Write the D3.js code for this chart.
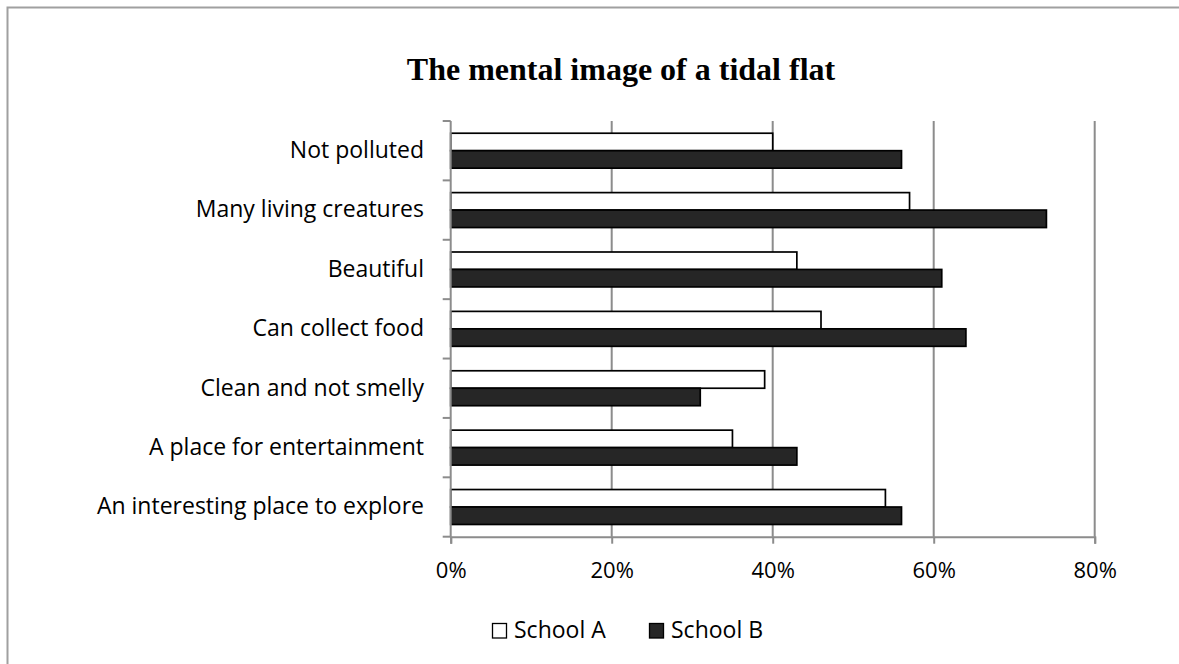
<!DOCTYPE html>
<html>
<head>
<meta charset="utf-8">
<script src="https://cdn.jsdelivr.net/npm/d3@7"></script>
<style>
  html, body { margin: 0; padding: 0; background: #fff; overflow: hidden; }
  svg { display: block; }
</style>
</head>
<body>
<svg id="chart" width="1179" height="664"></svg>
<script>
// Survey answers: share of students choosing each image of the tidal flat
const categories = [
  "Not polluted",
  "Many living creatures",
  "Beautiful",
  "Can collect food",
  "Clean and not smelly",
  "A place for entertainment",
  "An interesting place to explore"
];
const seriesNames = ["School A", "School B"];
const schoolA = [0.40, 0.57, 0.43, 0.46, 0.39, 0.35, 0.54];
const schoolB = [0.56, 0.74, 0.61, 0.64, 0.31, 0.43, 0.56];
const xTicks = [0, 0.2, 0.4, 0.6, 0.8];
const titleText = "The mental image of a tidal flat";

const rows = categories.map((c, i) => ({ category: c, values: [schoolA[i], schoolB[i]] }));

const svg = d3.select("#chart");
const sans = "'Open Sans', 'Noto Sans', sans-serif";
const grid = "#8c8c8c";

// chart frame (only its top and left edges fall inside the page)
svg.append("path")
  .attr("d", "M7.5,700 V7.5 H1200")
  .attr("fill", "none").attr("stroke", "#a0a0a0").attr("stroke-width", 2);

const plot = { left: 450.7, right: 1094.7, top: 121, bottom: 536.7 };

const x = d3.scaleLinear().domain([0, 0.8]).range([plot.left, plot.right]);
const y = d3.scaleBand().domain(categories).range([plot.top, plot.bottom]).paddingInner(0).paddingOuter(0);
const ySub = d3.scaleBand().domain(seriesNames).range([0, y.bandwidth()]).paddingInner(0).paddingOuter(0.7);
const fills = d3.scaleOrdinal().domain(seriesNames).range(["#ffffff", "#262626"]);

// title
svg.append("text")
  .attr("x", 621).attr("y", 80)
  .attr("text-anchor", "middle")
  .attr("font-family", "'Liberation Serif', 'Times New Roman', serif")
  .attr("font-weight", "bold")
  .attr("font-size", 32)
  .attr("fill", "#000")
  .text(titleText);

// vertical gridlines
svg.append("g")
  .selectAll("line")
  .data(xTicks.filter(t => t > 0))
  .join("line")
  .attr("x1", d => x(d)).attr("x2", d => x(d))
  .attr("y1", plot.top).attr("y2", plot.bottom)
  .attr("stroke", grid).attr("stroke-width", 2);

// bars
const groups = svg.append("g")
  .selectAll("g")
  .data(rows)
  .join("g")
  .attr("transform", d => `translate(0,${y(d.category)})`);

groups.selectAll("rect")
  .data(d => d.values.map((v, i) => ({ key: seriesNames[i], value: v })))
  .join("rect")
  .attr("x", x(0))
  .attr("y", d => ySub(d.key))
  .attr("width", d => x(d.value) - x(0))
  .attr("height", ySub.bandwidth())
  .attr("fill", d => fills(d.key))
  .attr("stroke", "#000")
  .attr("stroke-width", 1.7);

// x axis
const xAxis = d3.axisBottom(x)
  .tickValues(xTicks)
  .tickFormat(d3.format(".0%"))
  .tickSize(7)
  .tickPadding(19);
const gx = svg.append("g")
  .attr("transform", `translate(0,${plot.bottom})`)
  .call(xAxis);
gx.select(".domain").attr("stroke", grid).attr("stroke-width", 2);
gx.selectAll(".tick line").attr("stroke", grid).attr("stroke-width", 2);
gx.selectAll(".tick text")
  .attr("font-family", sans).attr("font-size", 22).attr("fill", "#000")
  .attr("dy", "0.71em");

// y axis: ticks sit on the category boundaries
const boundaries = categories.map(c => y(c)).concat([plot.bottom]);
const gy = svg.append("g");
gy.append("line")
  .attr("x1", plot.left).attr("x2", plot.left)
  .attr("y1", plot.top).attr("y2", plot.bottom)
  .attr("stroke", grid).attr("stroke-width", 2);
gy.selectAll("line.tk")
  .data(boundaries)
  .join("line")
  .attr("class", "tk")
  .attr("x1", plot.left - 8).attr("x2", plot.left)
  .attr("y1", d => d).attr("y2", d => d)
  .attr("stroke", grid).attr("stroke-width", 2);
gy.selectAll("text")
  .data(categories)
  .join("text")
  .attr("x", 424)
  .attr("y", d => y(d) + y.bandwidth() / 2)
  .attr("dy", "0.32em")
  .attr("text-anchor", "end")
  .attr("font-family", sans).attr("font-size", 23).attr("fill", "#000")
  .text(d => d);

// legend
const legendPos = [{ sx: 492, tx: 514 }, { sx: 649, tx: 671 }];
const legend = svg.append("g")
  .selectAll("g")
  .data(seriesNames)
  .join("g");
legend.append("rect")
  .attr("x", (d, i) => legendPos[i].sx + 0.5)
  .attr("y", 623.5)
  .attr("width", 14).attr("height", 14.5)
  .attr("fill", d => fills(d))
  .attr("stroke", "#000").attr("stroke-width", 1.3);
legend.append("text")
  .attr("x", (d, i) => legendPos[i].tx)
  .attr("y", 638.3)
  .attr("font-family", sans).attr("font-size", 23).attr("fill", "#000")
  .text(d => d);
</script>
</body>
</html>
